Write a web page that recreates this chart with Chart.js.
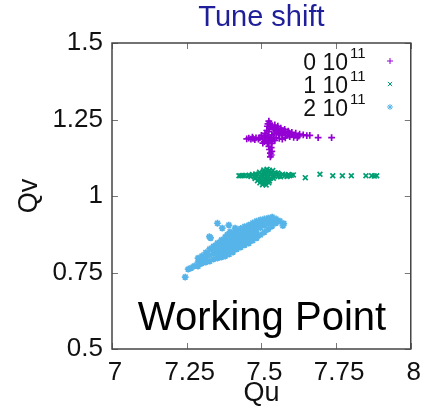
<!DOCTYPE html>
<html>
<head>
<meta charset="utf-8">
<script src="https://cdn.jsdelivr.net/npm/chart.js@4"></script>
<style>
  html, body { margin: 0; padding: 0; background: #fff; }
  #wrap { width: 429px; height: 414px; }
</style>
</head>
<body>
<div id="wrap"><canvas id="tuneChart"></canvas></div>
<script>
// Tick values and axis labels
const quTicks = [7, 7.25, 7.5, 7.75, 8];
const qvTicks = [0.5, 0.75, 1, 1.25, 1.5];

// Bunch intensity (x 10^11) for each series
const intensities = ['0', '1', '2'];
const seriesColors = ['#9400d3', '#009e73', '#56b4e9'];
const seriesMarkers = ['cross', 'crossRot', 'star'];

// 0 10^11 : tune footprint (Qu, Qv)
const qu0 = [7.525, 7.528, 7.522, 7.530, 7.520, 7.527, 7.535, 7.545, 7.555, 7.565, 7.578, 7.590, 7.602, 7.615,
  7.628, 7.640, 7.652, 7.540, 7.550, 7.562, 7.575, 7.588, 7.600, 7.612, 7.625, 7.545, 7.558, 7.570, 7.582,
  7.595, 7.608, 7.620, 7.518, 7.512, 7.525, 7.535, 7.500, 7.510, 7.520, 7.530, 7.540, 7.550, 7.560, 7.505,
  7.515, 7.525, 7.535, 7.545, 7.495, 7.490, 7.570, 7.580, 7.505, 7.520, 7.535, 7.451, 7.458, 7.465, 7.472,
  7.478, 7.482, 7.470, 7.525, 7.533, 7.527, 7.535, 7.530, 7.533, 7.530, 7.662, 7.690, 7.735,
  7.538, 7.548, 7.557, 7.568, 7.580, 7.593, 7.553, 7.566, 7.515, 7.528, 7.510];
const qv0 = [1.245, 1.238, 1.236, 1.230, 1.228, 1.222, 1.225, 1.232, 1.228, 1.222, 1.218, 1.212, 1.208, 1.205,
  1.202, 1.200, 1.197, 1.218, 1.215, 1.212, 1.208, 1.204, 1.200, 1.198, 1.196, 1.205, 1.202, 1.200, 1.197,
  1.194, 1.192, 1.191, 1.214, 1.205, 1.210, 1.200, 1.198, 1.192, 1.195, 1.190, 1.192, 1.190, 1.188, 1.185,
  1.182, 1.180, 1.178, 1.182, 1.190, 1.186, 1.186, 1.190, 1.173, 1.172, 1.172, 1.187, 1.189, 1.186, 1.188,
  1.184, 1.190, 1.192, 1.162, 1.158, 1.152, 1.146, 1.140, 1.134, 1.128, 1.198, 1.191, 1.191,
  1.226, 1.222, 1.220, 1.214, 1.210, 1.206, 1.208, 1.205, 1.198, 1.185, 1.178];

// 1 10^11
const qu1 = [7.425, 7.431, 7.438, 7.446, 7.455, 7.460,
  7.508, 7.519, 7.527, 7.538,
  7.494, 7.506, 7.514, 7.526, 7.534, 7.546, 7.555,
  7.470, 7.481, 7.489, 7.501, 7.511, 7.519, 7.531, 7.540, 7.551, 7.559, 7.571, 7.580, 7.591, 7.600, 7.607,
  7.465, 7.476, 7.484, 7.496, 7.504, 7.516, 7.524, 7.536, 7.544, 7.556, 7.564, 7.576, 7.586, 7.594,
  7.479, 7.491, 7.499, 7.511, 7.519, 7.531, 7.540,
  7.487, 7.499, 7.507, 7.519, 7.527,
  7.495, 7.506, 7.514, 7.525,
  7.504, 7.516,
  7.647, 7.696, 7.739, 7.771, 7.801, 7.850, 7.869, 7.878, 7.886];
const qv1 = [1.066, 1.066, 1.067, 1.067, 1.066, 1.068,
  1.085, 1.087, 1.084, 1.083,
  1.078, 1.079, 1.077, 1.080, 1.078, 1.076, 1.075,
  1.070, 1.072, 1.071, 1.070, 1.072, 1.071, 1.070, 1.072, 1.071, 1.070, 1.071, 1.069, 1.070, 1.068, 1.069,
  1.064, 1.063, 1.065, 1.064, 1.063, 1.065, 1.064, 1.063, 1.065, 1.064, 1.063, 1.065, 1.064, 1.066,
  1.057, 1.056, 1.058, 1.057, 1.056, 1.058, 1.058,
  1.050, 1.049, 1.051, 1.050, 1.049,
  1.043, 1.042, 1.044, 1.043,
  1.037, 1.036,
  1.060, 1.071, 1.066, 1.066, 1.066, 1.066, 1.066, 1.065, 1.066];

// 2 10^11
const qu2 = [7.288, 7.288, 7.288, 7.301, 7.301, 7.301, 7.314, 7.314, 7.314, 7.327, 7.327, 7.327,
  7.340, 7.340, 7.340, 7.340, 7.353, 7.353, 7.353, 7.353, 7.353, 7.366, 7.366, 7.366, 7.366, 7.366,
  7.379, 7.379, 7.379, 7.379, 7.379, 7.392, 7.392, 7.392, 7.392, 7.392, 7.405, 7.405, 7.405, 7.405, 7.405,
  7.418, 7.418, 7.418, 7.418, 7.418, 7.431, 7.431, 7.431, 7.431, 7.431, 7.444, 7.444, 7.444, 7.444, 7.444,
  7.458, 7.458, 7.458, 7.458, 7.458, 7.471, 7.471, 7.471, 7.471, 7.471, 7.484, 7.484, 7.484, 7.484, 7.484,
  7.497, 7.497, 7.497, 7.497, 7.510, 7.510, 7.510, 7.510, 7.523, 7.523, 7.523, 7.536, 7.536, 7.536,
  7.549, 7.549, 7.562, 7.575, 7.572, 7.275, 7.265, 7.255, 7.245,
  7.353, 7.369, 7.391, 7.395, 7.386, 7.326, 7.330, 7.412];
const qv2 = [0.784, 0.797, 0.771, 0.791, 0.804, 0.780, 0.798, 0.815, 0.784, 0.806, 0.827, 0.787,
  0.812, 0.836, 0.794, 0.824, 0.820, 0.846, 0.797, 0.833, 0.807, 0.827, 0.856, 0.800, 0.842, 0.811,
  0.833, 0.866, 0.804, 0.850, 0.818, 0.841, 0.873, 0.810, 0.856, 0.825, 0.848, 0.879, 0.817, 0.863, 0.833,
  0.855, 0.886, 0.827, 0.869, 0.840, 0.862, 0.894, 0.833, 0.877, 0.848, 0.869, 0.900, 0.840, 0.886, 0.855,
  0.876, 0.905, 0.846, 0.890, 0.860, 0.883, 0.912, 0.855, 0.897, 0.869, 0.890, 0.918, 0.863, 0.905, 0.876,
  0.897, 0.922, 0.873, 0.910, 0.904, 0.925, 0.882, 0.915, 0.911, 0.928, 0.892, 0.918, 0.931, 0.902,
  0.925, 0.912, 0.918, 0.910, 0.903, 0.771, 0.765, 0.761, 0.735,
  0.911, 0.895, 0.905, 0.883, 0.873, 0.867, 0.863, 0.895];

const quSeries = [qu0, qu1, qu2];
const qvSeries = [qv0, qv1, qv2];

const FONT = '"Liberation Sans", Arial, sans-serif';

// Box round the plot with inward ticks on all four sides (gnuplot style)
const framePlugin = {
  id: 'frame',
  afterDatasetsDraw(chart) {
    const { ctx, chartArea: a, scales: { x, y } } = chart;
    ctx.save();
    ctx.strokeStyle = '#777';
    ctx.lineWidth = 1;
    ctx.beginPath();
    x.ticks.forEach(t => {
      const px = Math.round(x.getPixelForValue(t.value)) + 0.5;
      ctx.moveTo(px, a.bottom); ctx.lineTo(px, a.bottom - 6);
      ctx.moveTo(px, a.top); ctx.lineTo(px, a.top + 6);
    });
    y.ticks.forEach(t => {
      const py = Math.round(y.getPixelForValue(t.value)) + 0.5;
      ctx.moveTo(a.left, py); ctx.lineTo(a.left + 6, py);
      ctx.moveTo(a.right, py); ctx.lineTo(a.right - 6, py);
    });
    ctx.stroke();
    ctx.strokeStyle = '#444';
    ctx.lineWidth = 1.5;
    ctx.strokeRect(a.left, a.top, a.right - a.left, a.bottom - a.top);
    ctx.restore();
  }
};

// Legend on the right (text then marker) and the "Working Point" caption
const notesPlugin = {
  id: 'notes',
  afterDraw(chart) {
    const { ctx } = chart;
    ctx.save();
    ctx.fillStyle = '#111';
    intensities.forEach((n, i) => {
      const base = 70 + i * 23;
      ctx.font = '23px ' + FONT;
      ctx.textAlign = 'right';
      ctx.textBaseline = 'alphabetic';
      ctx.fillText(n + ' 10', 348, base);
      ctx.font = '15px ' + FONT;
      ctx.textAlign = 'left';
      ctx.fillText('11', 350, base - 12);
      ctx.strokeStyle = seriesColors[i];
      ctx.fillStyle = seriesColors[i];
      Chart.helpers.drawPoint(ctx, { pointStyle: seriesMarkers[i], radius: 3, borderWidth: 1.2, rotation: 0 }, 390, base - 9);
      ctx.fillStyle = '#111';
    });
    ctx.font = '40px ' + FONT;
    ctx.textAlign = 'center';
    ctx.fillStyle = '#000';
    ctx.fillText('Working Point', 262, 330);
    ctx.restore();
  }
};

const datasets = intensities.map((n, i) => ({
  label: n + ' 10^11',
  data: quSeries[i].map((q, k) => ({ x: q, y: qvSeries[i][k] })),
  pointStyle: seriesMarkers[i],
  pointRadius: 3.4,
  pointBorderWidth: 1.7,
  borderColor: seriesColors[i],
  backgroundColor: seriesColors[i]
}));

const tickLabel = v => String(Number(Number(v).toFixed(2)));

const ctx = document.getElementById('tuneChart').getContext('2d');
new Chart(ctx, {
  type: 'scatter',
  data: { datasets },
  options: {
    responsive: true,
    maintainAspectRatio: false,
    animation: false,
    layout: { padding: { left: 0, right: 11, top: 0, bottom: 0 } },
    plugins: {
      legend: { display: false },
      tooltip: { enabled: false },
      title: {
        display: true,
        text: 'Tune shift',
        color: '#1f1f9a',
        fullSize: false,
        font: { family: FONT, size: 29, weight: 'normal', lineHeight: 1 },
        padding: { top: 3, bottom: 11 }
      }
    },
    scales: {
      x: {
        type: 'linear',
        min: 7,
        max: 8,
        afterBuildTicks: s => { s.ticks = quTicks.map(v => ({ value: v })); },
        afterFit: s => { s.height = 65; },
        grid: { display: false, drawTicks: false },
        border: { display: false },
        ticks: {
          color: '#111',
          padding: 11,
          labelOffset: 3,
          maxRotation: 0,
          autoSkip: false,
          callback: tickLabel,
          font: { family: FONT, size: 26, lineHeight: 1 }
        },
        title: {
          display: true,
          text: 'Qu',
          color: '#111',
          font: { family: FONT, size: 27, lineHeight: 1 },
          padding: { top: 0, bottom: 6.5 }
        }
      },
      y: {
        type: 'linear',
        min: 0.5,
        max: 1.5,
        afterBuildTicks: s => { s.ticks = qvTicks.map(v => ({ value: v })); },
        afterFit: s => { s.width = 112; },
        grid: { display: false, drawTicks: false },
        border: { display: false },
        ticks: {
          color: '#111',
          padding: 9,
          autoSkip: false,
          callback: tickLabel,
          font: { family: FONT, size: 26, lineHeight: 1 }
        },
        title: {
          display: true,
          text: 'Qv',
          color: '#111',
          font: { family: FONT, size: 27, lineHeight: 1 },
          padding: { top: 16.5, bottom: 0 }
        }
      }
    }
  },
  plugins: [framePlugin, notesPlugin]
});
</script>
</body>
</html>
